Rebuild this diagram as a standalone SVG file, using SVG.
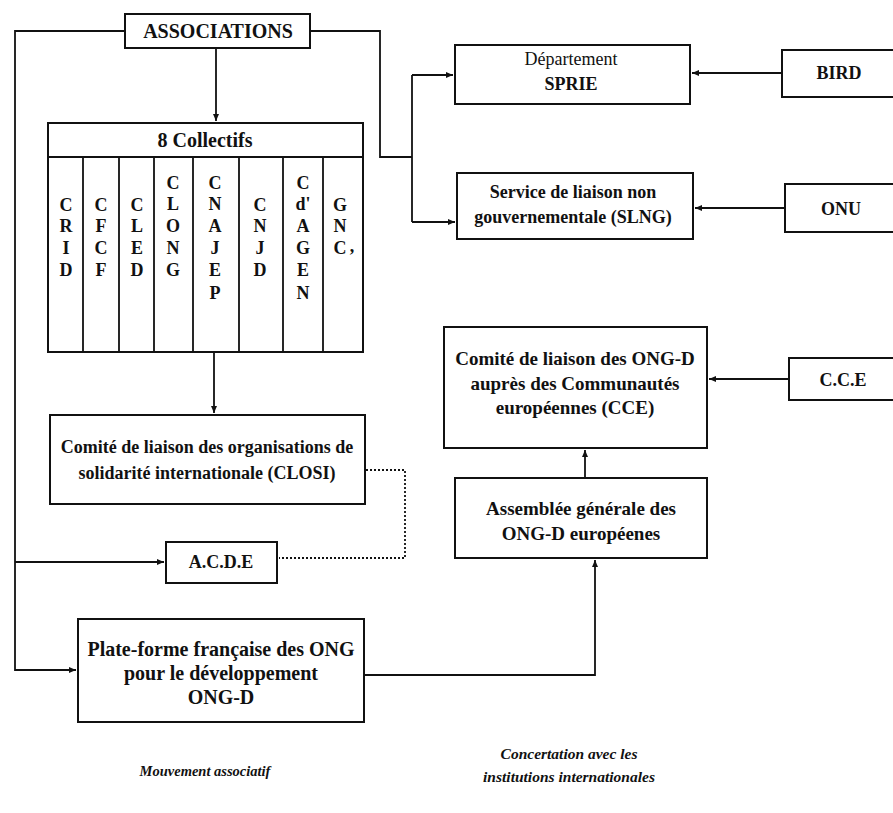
<svg xmlns="http://www.w3.org/2000/svg" width="893" height="813" viewBox="0 0 893 813">
<style>
.box{fill:#fff;stroke:#111;stroke-width:2}
.ln{fill:none;stroke:#111;stroke-width:1.8}
.dot{fill:none;stroke:#111;stroke-width:1.8;stroke-dasharray:2 2}
text{font-family:"Liberation Serif","Times New Roman",serif;font-weight:bold;fill:#111;text-anchor:middle}
.t20{font-size:20px}
.t19{font-size:19px}
.t18{font-size:18px}
.reg{font-weight:normal}
.col{font-size:18px}
.it{font-style:italic}
</style>
<defs>
<marker id="ah" markerWidth="8" markerHeight="8" refX="7" refY="4" orient="auto" markerUnits="userSpaceOnUse">
<path d="M0,1 L7,4 L0,7 Z" fill="#111"/>
</marker>
</defs>
<rect width="893" height="813" fill="#fff"/>

<g id="connectors">
<path class="ln" d="M125,31 H15 V670 H76" marker-end="url(#ah)"/>
<path class="ln" d="M15,562 H164" marker-end="url(#ah)"/>
<path class="ln" d="M310,31 H380 V157 H412"/>
<path class="ln" d="M412,75 V222"/>
<path class="ln" d="M412,75 H453" marker-end="url(#ah)"/>
<path class="ln" d="M412,222 H455" marker-end="url(#ah)"/>
<path class="ln" d="M216,48 V121" marker-end="url(#ah)"/>
<path class="ln" d="M214,352 V413" marker-end="url(#ah)"/>
<path class="dot" d="M366,470 H405 V558 H279"/>
<path class="ln" d="M782,73 H692" marker-end="url(#ah)"/>
<path class="ln" d="M785,208 H695" marker-end="url(#ah)"/>
<path class="ln" d="M789,379 H709" marker-end="url(#ah)"/>
<path class="ln" d="M585,478 V450" marker-end="url(#ah)"/>
<path class="ln" d="M364,675 H595 V560" marker-end="url(#ah)"/>
</g>

<g id="associations">
<rect class="box" x="125" y="14" width="185" height="34"/>
<text class="t20" x="218" y="38">ASSOCIATIONS</text>
</g>

<g id="collectifs">
<rect class="box" x="48" y="123" width="315" height="229"/>
<line class="ln" x1="48" y1="157" x2="363" y2="157"/>
<path class="ln" d="M83,157 V352 M119,157 V352 M154,157 V352 M193,157 V352 M239,157 V352 M283,157 V352 M323,157 V352"/>
<text class="t20" x="205" y="147">8 Collectifs</text>
</g>

<g id="CRID">
<text class="col" x="66" y="211">C</text><text class="col" x="66" y="232">R</text><text class="col" x="66" y="254">I</text><text class="col" x="66" y="276">D</text>
</g>
<g id="CFCF">
<text class="col" x="101" y="211">C</text><text class="col" x="101" y="232">F</text><text class="col" x="101" y="254">C</text><text class="col" x="101" y="276">F</text>
</g>
<g id="CLED">
<text class="col" x="137" y="211">C</text><text class="col" x="137" y="232">L</text><text class="col" x="137" y="254">E</text><text class="col" x="137" y="276">D</text>
</g>
<g id="CLONG">
<text class="col" x="173" y="189">C</text><text class="col" x="173" y="210">L</text><text class="col" x="173" y="232">O</text><text class="col" x="173" y="254">N</text><text class="col" x="173" y="276">G</text>
</g>
<g id="CNAJEP">
<text class="col" x="215" y="189">C</text><text class="col" x="215" y="210">N</text><text class="col" x="215" y="232">A</text><text class="col" x="215" y="254">J</text><text class="col" x="215" y="276">E</text><text class="col" x="215" y="299">P</text>
</g>
<g id="CNJD">
<text class="col" x="260" y="211">C</text><text class="col" x="260" y="232">N</text><text class="col" x="260" y="254">J</text><text class="col" x="260" y="276">D</text>
</g>
<g id="CdAGEN">
<text class="col" x="303" y="189">C</text><text class="col" x="303" y="210">d'</text><text class="col" x="303" y="232">A</text><text class="col" x="303" y="254">G</text><text class="col" x="303" y="276">E</text><text class="col" x="303" y="299">N</text>
</g>
<g id="GNC">
<text class="col" x="340" y="211">G</text><text class="col" x="340" y="232">N</text><text class="col" x="340" y="254">C</text><text class="col" x="352" y="252">,</text>
</g>

<g id="closi">
<rect class="box" x="50" y="415" width="315" height="89"/>
<text class="t18" x="207" y="453">Comité de liaison des organisations de</text>
<text class="t18" x="207" y="479">solidarité internationale (CLOSI)</text>
</g>

<g id="acde">
<rect class="box" x="166" y="542" width="111" height="41"/>
<text class="t18" x="221" y="568">A.C.D.E</text>
</g>

<g id="plateforme">
<rect class="box" x="78" y="619" width="286" height="103"/>
<text class="t20" x="221" y="656">Plate-forme française des ONG</text>
<text class="t20" x="221" y="680">pour le développement</text>
<text class="t20" x="221" y="704">ONG-D</text>
</g>

<g id="departement">
<rect class="box" x="455" y="45" width="235" height="59"/>
<text class="t18 reg" x="571" y="65">Département</text>
<text class="t18" x="571" y="90">SPRIE</text>
</g>

<g id="slng">
<rect class="box" x="457" y="173" width="236" height="66"/>
<text class="t18" x="573" y="198">Service de liaison  non</text>
<text class="t18" x="573" y="223">gouvernementale (SLNG)</text>
</g>

<g id="bird">
<rect class="box" x="782" y="50" width="120" height="47"/>
<text class="t18" x="839" y="79">BIRD</text>
</g>

<g id="onu">
<rect class="box" x="785" y="184" width="120" height="48"/>
<text class="t18" x="841" y="215">ONU</text>
</g>

<g id="cce-comite">
<rect class="box" x="444" y="327" width="263" height="121"/>
<text class="t19" x="575" y="365">Comité de liaison des ONG-D</text>
<text class="t19" x="575" y="390">auprès des Communautés</text>
<text class="t19" x="575" y="414">européennes (CCE)</text>
</g>

<g id="cce">
<rect class="box" x="789" y="358" width="120" height="42"/>
<text class="t18" x="843" y="386">C.C.E</text>
</g>

<g id="assemblee">
<rect class="box" x="455" y="478" width="252" height="80"/>
<text class="t19" x="581" y="515">Assemblée générale des</text>
<text class="t19" x="581" y="540">ONG-D européenes</text>
</g>

<g id="labels">
<text class="it" style="font-size:14.5px" x="205" y="776">Mouvement associatif</text>
<text class="it" style="font-size:15.5px" x="569" y="759">Concertation avec les</text>
<text class="it" style="font-size:15.5px" x="569" y="782">institutions internationales</text>
</g>
</svg>
